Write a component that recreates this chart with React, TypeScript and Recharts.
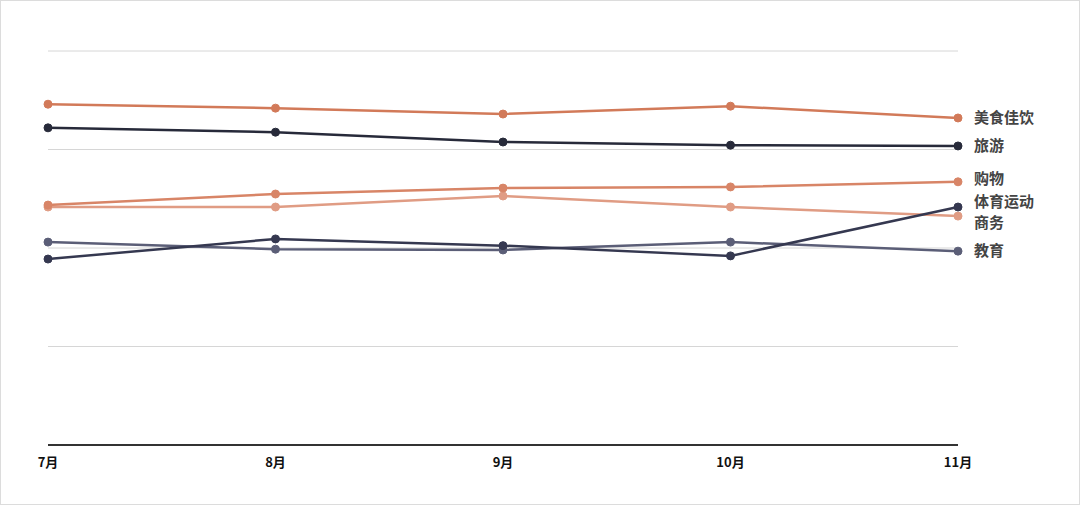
import React from 'react';
import { LineChart, Line, XAxis, YAxis, CartesianGrid } from 'recharts';

const months = ['7月', '8月', '9月', '10月', '11月'];
const food = [86.5, 85.5, 84.0, 86.0, 83.0];
const travel = [80.5, 79.4, 76.9, 76.1, 75.9];
const shopping = [60.9, 63.7, 65.2, 65.5, 66.8];
const business = [60.4, 60.4, 63.2, 60.4, 58.1];
const sports = [47.2, 52.3, 50.6, 48.0, 60.4];
const education = [51.5, 49.7, 49.5, 51.5, 49.2];
const yTicks = [0, 25, 50, 75, 100];

const data = months.map((m, i) => ({
  month: m,
  food: food[i],
  travel: travel[i],
  shopping: shopping[i],
  business: business[i],
  sports: sports[i],
  education: education[i],
}));

const series = [
  { key: 'education', name: '教育', color: '#5b5e77', dy: 0 },
  { key: 'business', name: '商务', color: '#e09c84', dy: 7 },
  { key: 'shopping', name: '购物', color: '#d88567', dy: -3 },
  { key: 'sports', name: '体育运动', color: '#353850', dy: -5 },
  { key: 'travel', name: '旅游', color: '#272a3a', dy: 0 },
  { key: 'food', name: '美食佳饮', color: '#d27a59', dy: 0 },
];

const last = months.length - 1;

export default function App() {
  return (
    <div style={{ position: 'absolute', left: 0, top: 0, width: 1080, height: 505, background: '#fff' }}>
      <LineChart
        width={1080}
        height={505}
        data={data}
        margin={{ top: 51, right: 122, left: 48, bottom: 30 }}
      >
        <CartesianGrid horizontal vertical={false} stroke="#d6d6d6" strokeWidth={1} />
        <YAxis hide domain={[0, 100]} ticks={yTicks} />
        <XAxis
          dataKey="month"
          axisLine={{ stroke: '#333', strokeWidth: 2 }}
          tickLine={false}
          interval={0}
          padding={{ left: 0, right: 0 }}
          tick={{ fill: '#111', fontSize: 13, fontWeight: 'bold', fontFamily: 'Noto Sans CJK SC, sans-serif' }}
          tickMargin={7}
        />
        {series.map((s) => (
          <Line
            key={s.key}
            dataKey={s.key}
            stroke={s.color}
            strokeWidth={2.5}
            dot={{ r: 4, fill: s.color, stroke: s.color, strokeWidth: 1 }}
            activeDot={false}
            isAnimationActive={false}
            label={(p: any) =>
              p.index === last ? (
                <text
                  key={s.key + '-lbl'}
                  x={p.x + 16}
                  y={p.y + s.dy}
                  dy={5}
                  fill="#444"
                  fontSize={15}
                  fontWeight="bold"
                  fontFamily="Noto Sans CJK SC, sans-serif"
                >
                  {s.name}
                </text>
              ) : (
                <g key={s.key + '-n' + p.index} />
              )
            }
          />
        ))}
      </LineChart>
      <div
        style={{
          position: 'absolute',
          left: 0,
          top: 0,
          width: 1080,
          height: 505,
          border: '1px solid #dcdcdc',
          boxSizing: 'border-box',
          pointerEvents: 'none',
        }}
      />
    </div>
  );
}
